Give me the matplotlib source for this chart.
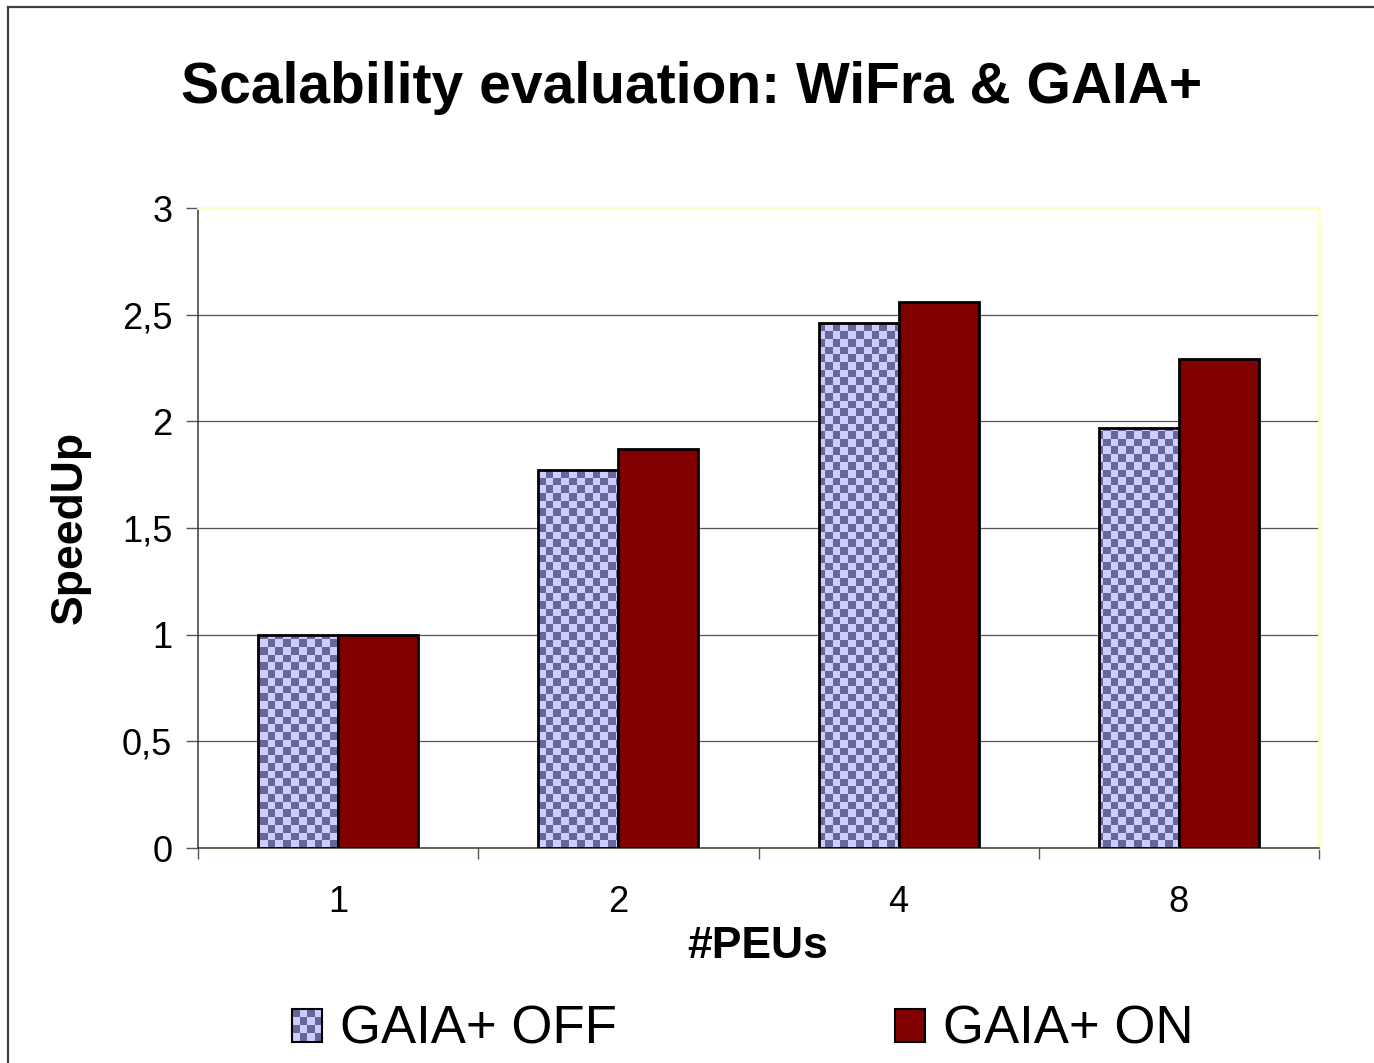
import numpy as np
import matplotlib
matplotlib.use('Agg')
import matplotlib.pyplot as plt
from matplotlib.colors import ListedColormap
from matplotlib.patches import Rectangle
from matplotlib.lines import Line2D
from matplotlib.legend_handler import HandlerBase

# Data
categories = ['1', '2', '4', '8']
gaia_off = [1.0, 1.77, 2.46, 1.97]
gaia_on = [1.0, 1.87, 2.56, 2.29]
y_ticks = [0, 0.5, 1, 1.5, 2, 2.5, 3]
y_tick_labels = ['0', '0,5', '1', '1,5', '2', '2,5', '3']

LIGHT = '#ccccff'
DARK = '#666699'
RED = '#800000'

plt.rcParams['font.family'] = ['Liberation Sans', 'DejaVu Sans']

W, H = 1374, 1063
fig = plt.figure(figsize=(W / 100, H / 100), dpi=100)
ax = fig.add_axes([198 / W, 1 - 848 / H, 1121 / W, 640 / H])

x = np.arange(len(categories))
bw = 1 / 3.5  # excel gap width 150%

# checker texture for the "OFF" bars, clipped to each bar
cell = 7.75
nx = int(round(1121 / cell))
ny = int(round(640 / cell))
checker = np.indices((ny, nx)).sum(axis=0) % 2
cmap = ListedColormap([LIGHT, DARK])

off_bars = ax.bar(x - bw / 2, gaia_off, bw, fill=False, edgecolor='black',
                  linewidth=2, zorder=3)
for b in off_bars:
    im = ax.imshow(checker, cmap=cmap, extent=(-0.5, 3.5, 0, 3), aspect='auto',
                   interpolation='nearest', origin='lower', zorder=2)
    im.set_clip_path(b)
ax.bar(x + bw / 2, gaia_on, bw, color=RED, edgecolor='black', linewidth=2, zorder=3)

ax.set_xlim(-0.5, 3.5)
ax.set_ylim(0, 3)

ax.set_yticks(y_ticks)
ax.set_yticklabels(y_tick_labels)
ax.set_xticks(x)
ax.set_xticklabels(categories)
ax.set_xticks(np.arange(-0.5, 4, 1), minor=True)
ax.tick_params(axis='x', which='major', length=0, pad=27, labelsize=26)
ax.tick_params(axis='x', which='minor', length=8, width=1, color='#555555', direction='out')
ax.tick_params(axis='y', length=8.5, width=1, color='#555555', pad=10, labelsize=26)

ax.set_axisbelow(True)
ax.yaxis.grid(True, color='#555555', linewidth=0.9)

for s in ['top', 'right']:
    ax.spines[s].set_color('#ffffc8')
    ax.spines[s].set_linewidth(2)
for s in ['left', 'bottom']:
    ax.spines[s].set_color('#3a3a2a')
    ax.spines[s].set_linewidth(1.1)

# texts
fig.text(692 / W, 1 - 103 / H, 'Scalability evaluation: WiFra & GAIA+',
         fontsize=41, fontweight='bold', ha='center', va='baseline')
fig.text(70 / W, 1 - 527 / H, 'SpeedUp', fontsize=32, fontweight='bold',
         rotation=90, ha='center', va='center')
fig.text(758 / W, 1 - 958 / H, '#PEUs', fontsize=32, fontweight='bold',
         ha='center', va='baseline')


class CheckerHandler(HandlerBase):
    def create_artists(self, legend, orig_handle, xdescent, ydescent,
                       width, height, fontsize, trans):
        x0, y0 = -xdescent, -ydescent
        arts = [Rectangle((x0, y0), width, height, facecolor=LIGHT,
                          edgecolor='none', transform=trans)]
        n = 4
        cw, ch = width / n, height / n
        for i in range(n):
            for j in range(n):
                if (i + j) % 2:
                    arts.append(Rectangle((x0 + i * cw, y0 + j * ch), cw, ch,
                                          facecolor=DARK, edgecolor='none',
                                          transform=trans))
        arts.append(Rectangle((x0, y0), width, height, facecolor='none',
                              edgecolor='black', linewidth=1.5, transform=trans))
        return arts


off_handle = Rectangle((0, 0), 1, 1, facecolor=LIGHT)
on_handle = Rectangle((0, 0), 1, 1, facecolor=RED, edgecolor='black', linewidth=1.5)
fs = 38
em = fs * 100 / 72
fig.legend([off_handle, on_handle], ['GAIA+ OFF', 'GAIA+ ON'],
           handler_map={off_handle: CheckerHandler()},
           loc='center', bbox_to_anchor=(743 / W, 1 - 1030 / H), ncol=2,
           frameon=False, fontsize=fs, borderpad=0, borderaxespad=0,
           handlelength=30 / em, handleheight=30 / em,
           handletextpad=18 / em, columnspacing=278 / em)

# outer chart border (left and top edges visible)
fig.add_artist(Line2D([8 / W, 8 / W], [0, 1 - 7 / H], color='#404040', linewidth=1.6))
fig.add_artist(Line2D([8 / W, 1], [1 - 7 / H, 1 - 7 / H], color='#404040', linewidth=1.6))

fig.savefig('out.png', dpi=100)
